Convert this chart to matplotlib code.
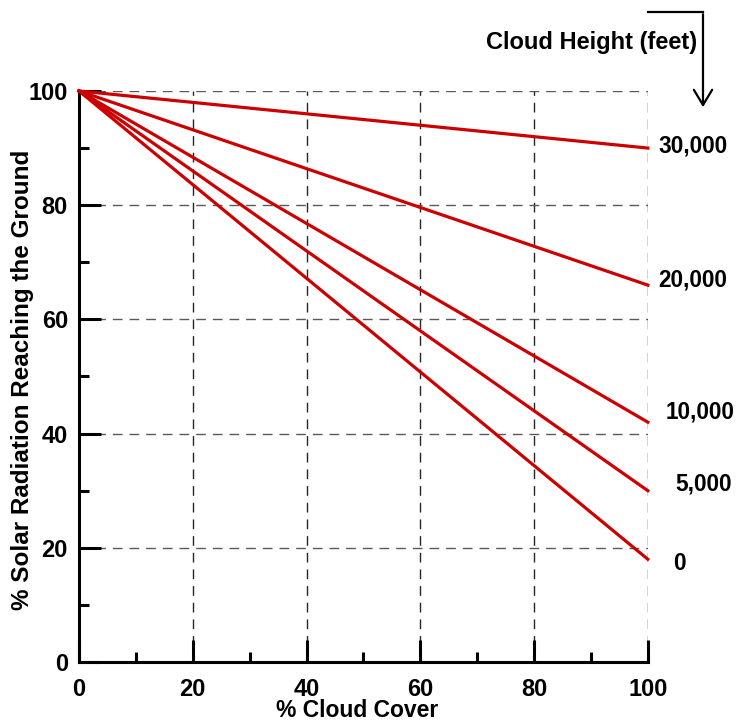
import numpy as np
import matplotlib.pyplot as plt

plt.rcParams['font.family'] = ['Liberation Sans', 'DejaVu Sans']
plt.rcParams['font.weight'] = 'bold'
plt.rcParams['lines.scale_dashes'] = False

# cloud cover (%) and radiation at 0 / 100 % cover for each cloud height
cover = [0, 100]
heights = ['30,000', '20,000', '10,000', '5,000', '0']
radiation = [[100, 90], [100, 66], [100, 42], [100, 30], [100, 18]]

# label placement next to the line ends (data coords)
label_x = [101.9, 101.9, 103.2, 104.9, 104.4]
label_y = [90.4, 66.9, 43.8, 31.2, 17.2]

fig = plt.figure(figsize=(7.37, 7.22), dpi=100)
ax = fig.add_axes([0.1072, 0.0831, 0.879 - 0.1072, 0.874 - 0.0831])

# dashed grid
for g in [20, 40, 60, 80, 100]:
    ax.axvline(g, color='0.15', lw=1, ls=(0, (7, 5)), zorder=1)
    ax.axhline(g, color='0.35', lw=1, ls=(0, (7, 5)), zorder=1)

for vals in radiation:
    ax.plot(cover, vals, color='#cc0000', lw=2.3, zorder=3, clip_on=False)

for name, lx, ly in zip(heights, label_x, label_y):
    ax.text(lx, ly, name, fontsize=16.3, fontweight='bold', va='center', ha='left')

ax.set_xlim(0, 100)
ax.set_ylim(0, 100)
ax.spines['top'].set_visible(False)
ax.spines['right'].set_visible(False)
ax.spines['left'].set_linewidth(2.2)
ax.spines['bottom'].set_linewidth(2.2)

ax.set_xticks(np.arange(0, 101, 20))
ax.set_yticks(np.arange(0, 101, 20))
ax.set_xticks(np.arange(10, 100, 20), minor=True)
ax.set_yticks(np.arange(10, 100, 20), minor=True)
ax.tick_params(which='major', direction='in', length=16, width=2.2, labelsize=17)
ax.tick_params(which='minor', direction='in', length=7.5, width=2.2)
ax.tick_params(axis='x', which='major', pad=11.5)
ax.tick_params(axis='y', which='major', pad=8)
for lab in ax.get_xticklabels() + ax.get_yticklabels():
    lab.set_fontweight('bold')

ax.set_ylabel('% Solar Radiation Reaching the Ground', fontsize=17.5, fontweight='bold')
ax.yaxis.set_label_coords(-0.079, 0.494)
# x label sits right at the bottom edge, as in the source picture
fig.text(357 / 737, 0, '% Cloud Cover', fontsize=16.5, fontweight='bold',
         ha='center', va='bottom')

# header with bent arrow
fig.text(697 / 737, 1 - 43 / 722, 'Cloud Height (feet)', fontsize=17, fontweight='bold',
         ha='right', va='center')
fig.add_artist(plt.Line2D([648 / 737, 703 / 737], [1 - 12 / 722, 1 - 12 / 722],
                          color='black', lw=1.6))
ax.annotate('', xy=(703 / 737, 1 - 110 / 722), xytext=(703 / 737, 1 - 11.4 / 722),
            xycoords='figure fraction', textcoords='figure fraction',
            arrowprops=dict(arrowstyle='->,head_length=0.5,head_width=0.3',
                            color='black', lw=1.6, mutation_scale=22))

fig.savefig('out.png', dpi=100)
